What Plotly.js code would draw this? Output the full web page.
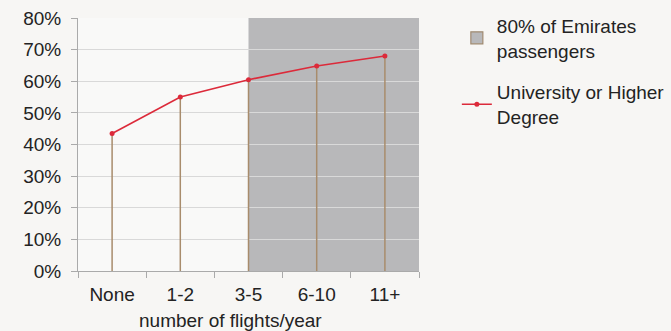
<!DOCTYPE html>
<html>
<head>
<meta charset="utf-8">
<script src="https://cdn.plot.ly/plotly-3.0.1.min.js"></script>
<style>
  html, body { margin: 0; padding: 0; background: #f7f6f4; }
  #chart { width: 671px; height: 331px; }
</style>
</head>
<body>
<div id="chart"></div>
<script>
// ---- data ----
const categories = ['None', '1-2', '3-5', '6-10', '11+'];
const universityShare = [43.5, 55.0, 60.5, 64.8, 68.0];
const emiratesBandStart = '3-5';      // band covering 80% of Emirates passengers
const emiratesBandValue = 80;          // 80%
const yTickValues = [0, 10, 20, 30, 40, 50, 60, 70, 80];
const yTickLabels = ['0%', '10%', '20%', '30%', '40%', '50%', '60%', '70%', '80%'];
const seriesNames = ['80% of Emirates<br>passengers', 'University or Higher<br>Degree'];
const xAxisLabel = 'number of flights/year';

const FONT = 'Liberation Sans, Arial, Helvetica, sans-serif';
const FS = 19;
const TEXT = '#232323';
const GRAY_FILL = '#b8b8ba';
const RED = '#dc2a3a';
const STEM = '#a88c6c';

const bandX0 = categories.indexOf(emiratesBandStart);
const bandX1 = categories.length - 0.5;

const traces = [
  {
    type: 'bar',
    x: [null], y: [null],
    name: seriesNames[0],
    legendgroup: 'a',
    marker: { color: GRAY_FILL, line: { color: '#a08a70', width: 1.2 } },
    hoverinfo: 'skip'
  },
  {
    type: 'scatter',
    mode: 'lines+markers',
    x: categories,
    y: universityShare,
    name: seriesNames[1],
    legendgroup: 'b',
    line: { color: RED, width: 1.6 },
    marker: { color: RED, size: 5 },
    error_y: {
      type: 'data', symmetric: false,
      array: universityShare.map(() => 0),
      arrayminus: universityShare,
      color: STEM, thickness: 1.5, width: 0
    }
  }
];

const layout = {
  width: 671, height: 331,
  margin: { l: 78, r: 252, t: 18, b: 60, autoexpand: false },
  paper_bgcolor: '#f7f6f4',
  plot_bgcolor: '#f9f9f8',
  font: { family: FONT, size: FS, color: TEXT },
  showlegend: true,
  legend: {
    x: 1.111, xanchor: 'left', y: 1.045, yanchor: 'top',
    bgcolor: 'rgba(0,0,0,0)',
    traceorder: 'grouped',
    tracegroupgap: 14,
    font: { family: FONT, size: FS, color: TEXT }
  },
  xaxis: {
    type: 'category',
    range: [-0.5, 4.5],
    tickson: 'boundaries',
    ticks: 'outside', ticklen: 6, tickcolor: '#aaaaaa', tickwidth: 1,
    showline: true, linecolor: '#aaaaaa', linewidth: 1,
    showgrid: false, zeroline: false,
    automargin: false,
    ticklabelstandoff: 6,
    tickfont: { family: FONT, size: FS, color: TEXT }
  },
  yaxis: {
    range: [0, 80],
    tickvals: yTickValues,
    ticktext: yTickLabels,
    ticks: 'outside', ticklen: 6, tickcolor: '#aaaaaa', tickwidth: 1,
    showline: true, linecolor: '#aaaaaa', linewidth: 1,
    showgrid: true, gridcolor: '#d9d9d9', gridwidth: 1,
    zeroline: false,
    automargin: false,
    ticklabelstandoff: 6,
    tickfont: { family: FONT, size: FS, color: TEXT }
  },
  shapes: [{
    type: 'rect', layer: 'below',
    xref: 'x', yref: 'y',
    x0: bandX0, x1: bandX1, y0: 0, y1: emiratesBandValue,
    fillcolor: GRAY_FILL, line: { width: 0 }
  }],
  annotations: [{
    xref: 'paper', yref: 'paper',
    x: 0.447, y: -0.148, xanchor: 'center', yanchor: 'top',
    text: xAxisLabel, showarrow: false,
    font: { family: FONT, size: FS, color: TEXT }
  }]
};

Plotly.newPlot('chart', traces, layout, { displayModeBar: false, staticPlot: true }).then(() => {
  // keep the light grid visible on top of the grey band, as in the reference
  const grid = document.querySelector('.gridlayer');
  const band = document.querySelector('.layer-subplot');
  if (grid && band && grid.parentNode === band.parentNode) {
    grid.parentNode.insertBefore(band, grid);
  }
});
</script>
</body>
</html>
